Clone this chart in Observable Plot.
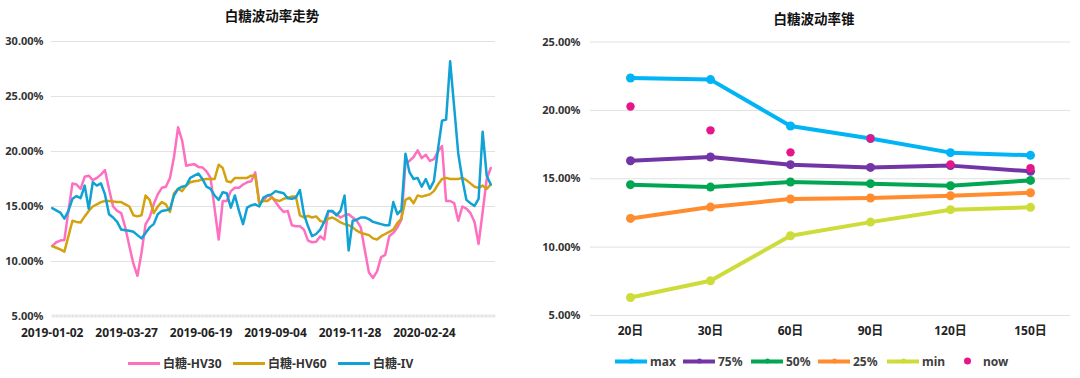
<!DOCTYPE html>
<html>
<head>
<meta charset="utf-8">
<script src="https://cdn.jsdelivr.net/npm/d3@7"></script>
<script src="https://cdn.jsdelivr.net/npm/@observablehq/plot@0.6"></script>
<style>
  body { margin: 0; background: #fff; }
  #wrap { position: relative; width: 1080px; height: 378px; overflow: hidden; background: #fff;
          font-family: "Noto Sans", "Noto Sans CJK SC", sans-serif; }
  #wrap svg { position: absolute; top: 0; }
  .title { position: absolute; transform: translate(-50%, -50%); white-space: nowrap;
           font-family: "Noto Sans CJK SC", sans-serif; font-weight: bold; font-size: 13.5px; color: #111; }
  .leg { position: absolute; display: flex; align-items: center; white-space: nowrap;
         transform: translateY(-50%); font-weight: bold; font-size: 12px; color: #333; }
  .sw { position: relative; display: inline-block; width: 32px; margin-right: 3px; }
  .dotsw { display: inline-block; width: 7px; height: 7px; border-radius: 50%; margin-right: 12px; }
  .mk { position: absolute; left: 14px; top: -0.5px; width: 5px; height: 5px; border-radius: 50%; }
</style>
</head>
<body>
<div id="wrap"></div>
<script>
// ---------- Left chart: 白糖波动率走势 (values in %, one value every 3rd trading day from 2019-01-02) ----------
const sampleStep = 3;
const tickLabels = ["2019-01-02", "2019-03-27", "2019-06-19", "2019-09-04", "2019-11-28", "2020-02-24"];
const tickDayIndex = [0, 55, 110, 165, 220, 275];
const tradingDays = 328;

const seriesNames = ["白糖-HV30", "白糖-HV60", "白糖-IV"];
const seriesColors = ["#FF6FBF", "#D4A20E", "#10A2D4"];

const hv30 = [
  11.4,11.75,11.9,11.95,14.6,17.1,17.0,16.6,17.7,17.8,
  17.4,17.6,17.9,18.3,16.6,15.0,14.6,14.4,13.1,11.4,
  9.8,8.7,10.8,13.4,14.0,15.2,16.1,16.7,16.8,17.6,
  19.5,22.2,21.0,18.7,18.8,18.85,18.6,18.55,18.2,17.6,
  14.8,12.0,15.5,15.5,16.4,16.7,16.7,17.0,17.2,17.3,
  18.1,15.3,15.5,16.0,15.9,15.4,14.9,14.5,14.6,13.3,
  13.2,13.2,12.9,11.9,11.75,11.8,12.3,12.0,14.6,14.5,
  14.3,14.0,14.2,14.3,14.0,13.7,13.1,11.0,9.0,8.5,
  9.1,10.4,10.6,12.3,12.6,13.1,13.8,18.9,19.15,19.5,
  20.1,19.4,19.7,19.15,19.3,20.0,20.5,15.5,15.5,15.3,
  13.7,15.0,14.8,14.4,13.6,11.6,14.5,17.5,18.5
];
const hv60 = [
  11.4,11.25,11.1,10.9,12.3,13.7,13.6,13.55,14.1,14.6,
  15.0,15.2,15.4,15.5,15.5,15.45,15.4,15.4,15.2,15.0,
  14.2,14.1,14.2,16.0,15.6,14.4,15.0,15.4,15.2,14.5,
  16.2,16.6,16.4,16.9,17.2,17.3,17.35,17.45,17.5,17.5,
  17.5,18.8,18.5,17.3,17.2,17.6,17.6,17.6,17.6,17.8,
  17.8,15.3,15.5,15.5,15.8,15.6,15.5,15.7,15.8,15.9,
  15.9,14.2,14.0,14.15,14.0,14.1,13.7,13.55,13.9,14.0,
  13.8,13.55,13.4,13.3,13.1,12.8,12.6,12.5,12.4,12.1,
  12.0,12.3,12.5,12.7,12.9,13.5,13.9,15.6,15.8,15.3,
  16.0,15.9,16.0,16.1,16.4,17.0,17.5,17.6,17.5,17.5,
  17.5,17.6,17.4,17.1,16.8,16.7,16.9,16.6,17.0
];
const iv = [
  14.85,14.65,14.45,13.9,14.6,15.7,15.95,15.76,16.9,14.8,
  17.2,16.9,17.1,16.1,14.3,14.0,13.6,12.9,12.85,12.8,
  12.7,12.4,12.1,12.6,13.1,13.4,14.3,14.6,14.65,14.75,
  16.0,16.6,16.8,16.9,17.6,17.8,18.0,17.5,16.8,16.6,
  16.0,15.6,16.3,16.2,14.9,16.0,14.6,13.4,14.9,15.1,
  15.2,15.0,15.8,16.0,16.1,16.4,16.3,16.2,15.75,15.7,
  15.8,16.5,14.3,13.2,12.3,12.5,12.9,13.6,14.6,14.6,
  14.2,14.6,16.0,11.0,13.7,13.8,14.0,14.0,13.85,13.6,
  13.5,13.4,13.3,13.3,15.4,14.3,14.7,19.8,18.1,17.5,
  17.6,16.8,17.5,16.6,17.3,20.2,22.8,22.9,28.2,24.0,
  19.8,17.5,15.6,15.3,15.06,15.7,21.8,17.8,17.0
];
const leftYTicks = [5, 10, 15, 20, 25, 30];

// ---------- Right chart: 白糖波动率锥 ----------
const coneCats = ["20日", "30日", "60日", "90日", "120日", "150日"];
const coneNames = ["max", "75%", "50%", "25%", "min", "now"];
const coneColors = ["#00B4F5", "#7335A5", "#00A651", "#FF8C2E", "#CEDC3A", "#E6168A"];
const coneMax = [22.37, 22.25, 18.86, 17.94, 16.91, 16.71];
const cone75  = [16.32, 16.59, 16.03, 15.83, 15.96, 15.54];
const cone50  = [14.57, 14.39, 14.76, 14.64, 14.49, 14.88];
const cone25  = [12.10, 12.93, 13.52, 13.59, 13.76, 13.98];
const coneMin = [6.32, 7.54, 10.83, 11.83, 12.74, 12.91];
const coneNow = [20.28, 18.54, 16.93, 17.94, 16.05, 15.78];
const rightYTicks = [5, 10, 15, 20, 25];

const pct = d => d.toFixed(2) + "%";
const fontStack = '"Noto Sans", "Noto Sans CJK SC", sans-serif';
const wrap = document.getElementById("wrap");

// ---- left plot ----
const leftSeries = [hv30, hv60, iv];
const leftMarks = leftSeries.map((vals, s) =>
  Plot.line(vals.map((v, k) => ({day: k * sampleStep, v})), {
    x: "day", y: "v", stroke: seriesColors[s], strokeWidth: 2.5,
    strokeLinejoin: "round", strokeLinecap: "round"
  })
);
const left = Plot.plot({
  width: 540, height: 345,
  marginLeft: 51, marginRight: 45, marginTop: 41, marginBottom: 29,
  style: {fontFamily: fontStack, overflow: "visible", background: "transparent"},
  x: {domain: [-0.5, tradingDays - 0.5], axis: null},
  y: {domain: [5, 30], axis: null},
  marks: [
    Plot.ruleY(leftYTicks.filter(d => d > 5), {stroke: "#e2e2e2", strokeWidth: 1}),
    Plot.ruleX(d3.range(tradingDays), {x: d => d, y1: 4.86, y2: 5.14, stroke: "#cccccc", strokeWidth: 0.6}),
    Plot.axisY({ticks: leftYTicks, tickFormat: pct, tickSize: 0, tickPadding: 8,
                fontSize: 11, fontWeight: "bold", color: "#333", label: null}),
    Plot.axisX({ticks: tickDayIndex, tickFormat: d => tickLabels[tickDayIndex.indexOf(d)],
                tickSize: 0, tickPadding: 12, fontSize: 12, fontWeight: "bold", color: "#222", label: null}),
    ...leftMarks
  ]
});
left.style.left = "0px";
wrap.appendChild(left);

// ---- right plot ----
const coneSeries = [coneMax, cone75, cone50, cone25, coneMin];
const rightMarks = [];
coneSeries.forEach((vals, s) => {
  const rows = vals.map((v, i) => ({cat: coneCats[i], v}));
  rightMarks.push(Plot.line(rows, {x: "cat", y: "v", stroke: coneColors[s], strokeWidth: 4, strokeLinejoin: "round"}));
  rightMarks.push(Plot.dot(rows, {x: "cat", y: "v", fill: coneColors[s], r: 4.5}));
});
rightMarks.push(Plot.dot(coneNow.map((v, i) => ({cat: coneCats[i], v})), {x: "cat", y: "v", fill: coneColors[5], r: 4.2}));

const right = Plot.plot({
  width: 540, height: 345,
  marginLeft: 50, marginRight: 10, marginTop: 41.5, marginBottom: 30,
  style: {fontFamily: fontStack, overflow: "visible", background: "transparent"},
  x: {type: "point", domain: coneCats, padding: 0.5, axis: null},
  y: {domain: [5, 25], axis: null},
  marks: [
    Plot.ruleY(rightYTicks, {stroke: "#e0e0e0", strokeWidth: 1}),
    Plot.axisY({ticks: rightYTicks, tickFormat: pct, tickSize: 0, tickPadding: 10,
                fontSize: 11, fontWeight: "bold", color: "#333", label: null}),
    Plot.axisX({tickSize: 0, tickPadding: 11, fontSize: 12, fontWeight: "bold", color: "#222", label: null}),
    ...rightMarks
  ]
});
right.style.left = "540px";
wrap.appendChild(right);

// ---- titles ----
function addTitle(text, x, y) {
  const t = document.createElement("div");
  t.className = "title"; t.textContent = text;
  t.style.left = x + "px"; t.style.top = y + "px";
  wrap.appendChild(t);
}
addTitle("白糖波动率走势", 272, 15);
addTitle("白糖波动率锥", 814, 18);

// ---- legends ----
const leftLegendX = [128, 233, 338];
seriesNames.forEach((name, i) => {
  const item = document.createElement("div");
  item.className = "leg";
  item.style.left = leftLegendX[i] + "px"; item.style.top = "363px";
  item.innerHTML = `<span class="sw" style="height:3px;background:${seriesColors[i]}"></span><span>${name}</span>`;
  wrap.appendChild(item);
});
const rightLegendX = [615, 683, 751, 818, 887, 964];
coneNames.forEach((name, i) => {
  const item = document.createElement("div");
  item.className = "leg";
  item.style.left = rightLegendX[i] + "px"; item.style.top = "361px";
  item.style.color = "#404040";
  if (i < 5) {
    item.innerHTML = `<span class="sw" style="height:4px;background:${coneColors[i]}"><span class="mk" style="background:${coneColors[i]}"></span></span><span>${name}</span>`;
  } else {
    item.innerHTML = `<span class="dotsw" style="background:${coneColors[i]}"></span><span>${name}</span>`;
  }
  wrap.appendChild(item);
});
</script>
</body>
</html>
